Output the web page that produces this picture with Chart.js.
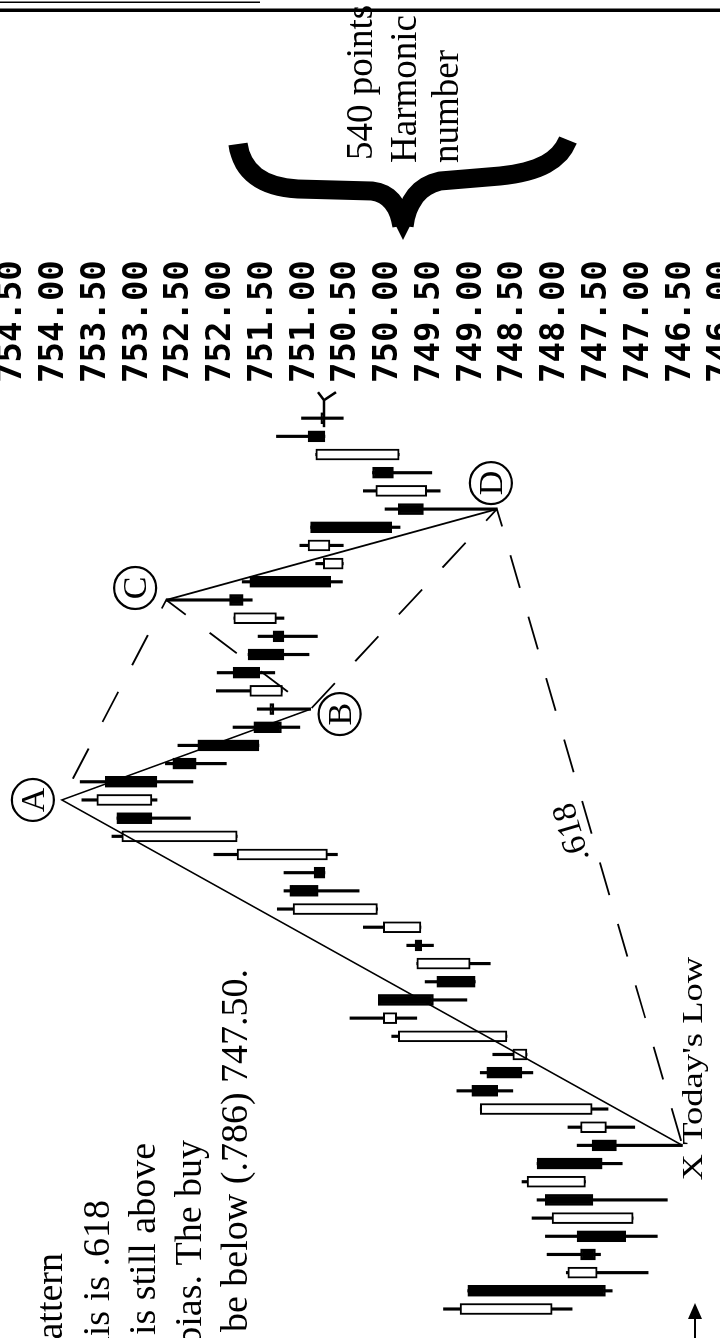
<!DOCTYPE html>
<html>
<head>
<meta charset="utf-8">
<title>Harmonic pattern - 540 points</title>
<script src="https://cdn.jsdelivr.net/npm/chart.js@4.4.1/dist/chart.umd.min.js"></script>
<style>
  html, body { margin: 0; padding: 0; background: #fff; overflow: hidden; }
  /* the chart is drawn upright (1338 wide) and turned a quarter turn to the left */
  #wrap {
    position: absolute; left: 0; top: 0;
    width: 1338px; height: 740px;
    transform-origin: 0 0;
    transform: translate(0px, 1338px) rotate(-90deg);
  }
</style>
</head>
<body>
<div id="wrap"><canvas id="chart" width="1338" height="740"></canvas></div>
<script>
'use strict';
// ── Candles (oldest first) ─────────────────────────────────────────────────
const opens  = [748.04, 749.05, 747.50, 747.70, 747.74, 747.07, 748.12, 747.64, 748.22, 747.56,
                747.39, 747.56, 749.00, 748.82, 748.34, 748.58, 749.90, 750.12, 749.42, 749.02,
                749.68, 749.61, 750.13, 751.18, 750.89, 750.73, 751.81, 753.25, 752.83, 753.39,
                752.58, 752.28, 751.61, 751.42, 751.27, 751.86, 751.68, 751.38, 751.34, 751.90,
                751.66, 750.54, 750.70, 750.93, 749.88, 749.54, 750.19, 749.87, 750.96, 750.81];
const highs  = [749.34, 749.05, 747.87, 748.10, 748.12, 748.28, 748.22, 748.40, 748.22, 747.74,
                747.85, 748.90, 749.18, 748.90, 748.75, 749.96, 750.46, 750.12, 749.56, 749.66,
                749.78, 750.30, 751.33, 751.25, 751.25, 752.09, 753.31, 753.25, 753.67, 753.69,
                752.67, 752.52, 751.86, 751.57, 752.06, 752.05, 751.68, 751.56, 751.85, 752.66,
                751.75, 750.87, 751.06, 750.93, 750.04, 750.30, 750.19, 750.87, 751.34, 751.04];
const lows   = [747.80, 747.32, 746.89, 747.46, 746.78, 747.07, 746.66, 747.64, 747.20, 746.48,
                747.05, 747.37, 748.51, 748.27, 748.34, 748.58, 749.66, 749.06, 748.96, 748.78,
                749.46, 749.61, 750.13, 750.35, 750.76, 750.61, 751.81, 752.37, 752.77, 752.34,
                751.94, 751.55, 751.06, 750.93, 751.27, 751.36, 750.95, 750.85, 751.25, 751.63,
                750.55, 750.54, 750.54, 749.86, 748.70, 749.38, 749.48, 749.87, 750.76, 750.54];
const closes = [749.14, 747.40, 747.85, 747.52, 747.16, 748.04, 747.55, 748.34, 747.44, 747.27,
                747.70, 748.90, 748.69, 748.40, 748.51, 749.88, 750.06, 749.46, 748.96, 749.66,
                749.60, 750.06, 751.14, 750.84, 750.76, 751.81, 753.19, 752.83, 753.49, 752.77,
                752.30, 751.55, 751.28, 751.37, 751.66, 751.54, 751.25, 751.25, 751.85, 751.74,
                750.69, 750.78, 750.96, 749.96, 749.58, 750.15, 749.94, 750.87, 750.76, 750.77];

// ── Harmonic pattern points (candle index, price) ─────────────────────────
const patNames = ['X', 'A', 'B', 'C', 'D'];
const patIdx   = [9, 28, 33, 39, 44];
const patPrice = [746.48, 753.91, 750.93, 752.66, 748.70];

// ── Price axis labels ─────────────────────────────────────────────────────
const tickLabels = ['754.50', '754.00', '753.50', '753.00', '752.50', '752.00', '751.50', '751.00', '750.50',
                    '750.00', '749.50', '749.00', '748.50', '748.00', '747.50', '747.00', '746.50', '746.00'];
const tickValues = tickLabels.map(Number);

const W = 1338;          // canvas width before the quarter turn
const AXIS_W = 393;      // price axis + notes strip on the right
const SERIF = "'Liberation Serif', 'Times New Roman', serif";
const INK = '#000';

const pt = i => ({ x: patIdx[i], y: patPrice[i] });
const idx = opens.map((_, i) => i);

function txt(ctx, str, u, v, size, o = {}) {
    ctx.save();
    ctx.translate(u, v);
    if (o.angle) ctx.rotate(o.angle);
    ctx.scale(o.sx || 1, 1);
    ctx.font = `${size}px ${SERIF}`;
    ctx.textAlign = o.align || 'left';
    ctx.textBaseline = o.baseline || 'alphabetic';
    ctx.fillStyle = INK;
    ctx.fillText(str, 0, o.dy || 0);
    ctx.restore();
}

// ── Notes, circled letters, brace ─────────────────────────────────────────
const notes = {
    id: 'notes',
    beforeDraw(chart) {
        const { ctx } = chart;
        ctx.save();
        ctx.fillStyle = '#fff';
        ctx.fillRect(0, 0, chart.width, chart.height);
        ctx.restore();
    },
    afterDraw(chart) {
        const { ctx, scales: { x, y } } = chart;
        const S = (sx, sy) => [W - sy, sx];   // page coords -> canvas coords
        const P = i => [x.getPixelForValue(patIdx[i]), y.getPixelForValue(patPrice[i])];
        ctx.save();
        ctx.strokeStyle = INK;
        ctx.fillStyle = INK;

        // circled pattern letters
        const off = { A: [0, -29], B: [-5, 29], C: [12, -31], D: [26, -6] };
        patNames.forEach((n, i) => {
            if (!off[n]) return;
            const [pu, pv] = P(i);
            const cu = pu + off[n][0], cv = pv + off[n][1];
            ctx.lineWidth = 2.2;
            ctx.beginPath();
            ctx.arc(cu, cv, 21, 0, Math.PI * 2);
            ctx.stroke();
            txt(ctx, n, cu, cv + 2, 34, { align: 'center', baseline: 'middle' });
        });

        // X label
        const [xu, xv] = P(0);
        txt(ctx, "X Today's Low", xu - 35, xv + 20, 30, { sx: 1.22 });

        // .618 along the X-D leg
        const [du, dv] = P(4);
        const ang = Math.atan2(dv - xv, du - xu);
        txt(ctx, '.618', (xu + du) / 2, (xv + dv) / 2, 34, { angle: ang, align: 'center', dy: -9 });

        // arrow on the last candle
        const lu = x.getPixelForValue(49), lv = y.getPixelForValue(closes[49]);
        ctx.lineWidth = 2.5;
        ctx.beginPath();
        ctx.moveTo(lu - 9, lv); ctx.lineTo(lu + 18, lv);
        ctx.moveTo(lu + 18, lv); ctx.lineTo(lu + 26, lv - 6);
        ctx.moveTo(lu + 18, lv); ctx.lineTo(lu + 26, lv + 12);
        ctx.stroke();

        // commentary (cut by the page edge)
        txt(ctx, 'pattern', 85, 62, 38, { align: 'right' });
        txt(ctx, 'this is .618', 138, 109, 38, { align: 'right' });
        txt(ctx, 'is still above', 195, 155, 38, { align: 'right' });
        txt(ctx, 'bias. The buy', 198, 201, 38, { align: 'right' });
        txt(ctx, 'be below (.786) 747.50.', 6, 247, 38);

        // 540 points note
        txt(ctx, '540 points', 1178, 372, 37);
        txt(ctx, 'Harmonic', 1175, 416, 37);
        txt(ctx, 'number', 1175, 458, 37);

        // brace
        ctx.lineWidth = 19;
        ctx.lineJoin = 'round';
        ctx.beginPath();
        ctx.moveTo(...S(238, 144));
        ctx.bezierCurveTo(...S(242, 172), ...S(262, 187), ...S(298, 189));
        ctx.lineTo(...S(372, 191));
        ctx.quadraticCurveTo(...S(397, 194), ...S(402, 226));
        ctx.moveTo(...S(404, 226));
        ctx.quadraticCurveTo(...S(409, 188), ...S(440, 181));
        ctx.lineTo(...S(500, 176));
        ctx.bezierCurveTo(...S(540, 172), ...S(560, 160), ...S(568, 140));
        ctx.stroke();
        ctx.beginPath();
        ctx.moveTo(...S(393, 220));
        ctx.lineTo(...S(413, 220));
        ctx.lineTo(...S(403, 240));
        ctx.closePath();
        ctx.fill();

        // top rule and arrow at the bottom edge
        ctx.fillRect(W - 12, 0, 3.5, chart.height);
        ctx.fillRect(W - 3, 0, 1.5, 260);
        ctx.lineWidth = 2;
        ctx.beginPath();
        ctx.moveTo(...S(695, 1338)); ctx.lineTo(...S(695, 1318));
        ctx.stroke();
        ctx.beginPath();
        ctx.moveTo(...S(695, 1303)); ctx.lineTo(...S(688, 1319)); ctx.lineTo(...S(702, 1319));
        ctx.closePath();
        ctx.fill();
        ctx.restore();
    }
};

new Chart(document.getElementById('chart'), {
    type: 'bar',
    data: {
        datasets: [
            { type: 'line', label: 'X-A-B', order: 0,
              data: [pt(0), pt(1), pt(2)],
              borderColor: INK, borderWidth: 1.6, pointRadius: 0, tension: 0, fill: false },
            { type: 'line', label: 'A-C-B-D-X', order: 1,
              data: [pt(1), pt(3), pt(2), pt(4), pt(0)],
              borderColor: INK, borderWidth: 1.8, borderDash: [34, 30], borderDashOffset: 40,
              pointRadius: 0, tension: 0, fill: false },
            { label: 'body', order: 2, grouped: false, barThickness: 11,
              data: idx.map(i => ({ x: i, y: [opens[i], closes[i]] })),
              backgroundColor: c => closes[c.dataIndex] < opens[c.dataIndex] ? INK : '#fff',
              borderColor: INK, borderWidth: 2, borderSkipped: false },
            { label: 'wick', order: 3, grouped: false, barThickness: 2.5,
              data: idx.map(i => ({ x: i, y: [lows[i], highs[i]] })),
              backgroundColor: INK, borderWidth: 0 },
            { type: 'line', label: 'C-D', order: 4,
              data: [pt(3), pt(4)],
              borderColor: INK, borderWidth: 1.8, pointRadius: 0, tension: 0, fill: false },
        ]
    },
    options: {
        responsive: false,
        animation: false,
        events: [],
        layout: { padding: 0 },
        plugins: { legend: { display: false }, tooltip: { enabled: false } },
        scales: {
            x: { type: 'linear', min: -1.595, max: 50.385, display: false, offset: false },
            y: {
                type: 'linear', position: 'right',
                min: 745.79, max: 754.65, beginAtZero: false,
                grid: { display: false, drawTicks: false },
                border: { display: false },
                afterBuildTicks: s => { s.ticks = tickValues.map(v => ({ value: v })); },
                afterFit: s => { s.width = AXIS_W; s.paddingTop = 0; s.paddingBottom = 0; },
                ticks: {
                    autoSkip: false, padding: 10, color: INK,
                    font: { family: "'DejaVu Sans Mono', monospace", size: 34, weight: 'bold' },
                    callback: (v, i) => tickLabels[i]
                }
            }
        }
    },
    plugins: [notes]
});
</script>
</body>
</html>
